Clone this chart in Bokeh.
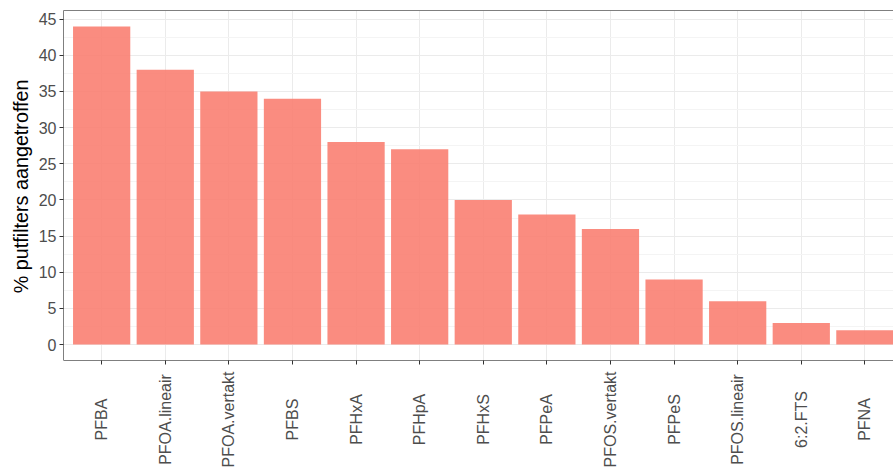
import math
from bokeh.plotting import figure
from bokeh.models import (ColumnDataSource, Range1d, FixedTicker, LinearAxis,
                          Grid, BoxAnnotation, Title)
from bokeh.core.properties import value
from bokeh.embed import file_html
from bokeh.resources import INLINE

categories = ["PFBA", "PFOA.lineair", "PFOA.vertakt", "PFBS", "PFHxA", "PFHpA",
              "PFHxS", "PFPeA", "PFOS.vertakt", "PFPeS", "PFOS.lineair",
              "6:2.FTS", "PFNA"]
values = [44, 38, 35, 34, 28, 27, 20, 18, 16, 9, 6, 3, 2]
y_ticks = [0, 5, 10, 15, 20, 25, 30, 35, 40, 45]
y_minor = [2.5, 7.5, 12.5, 17.5, 22.5, 27.5, 32.5, 37.5, 42.5]
y_title = "% putfilters aangetroffen"

xs = list(range(1, len(categories) + 1))

# layout (pixels)
FIG_W, FIG_H = 893, 468
TOP_PX = 10          # frame top
PANEL_PX = 350       # height of the data panel (top .. x axis line)
LABEL_CENTER_PX = 419

Y0, Y1 = -2.2, 46.2                 # panel limits
k = PANEL_PX / (Y1 - Y0)            # px per unit
Y_START = Y1 - (FIG_H - TOP_PX) / k # frame extends to bottom of figure
lab_y = Y1 - (LABEL_CENTER_PX - TOP_PX) / k

src = ColumnDataSource(dict(x=xs, top=values, cat=categories,
                            ly=[lab_y] * len(xs)))

FONT = "Liberation Sans"
BORDER = "#7F7F7F"
TICK = "#333333"

p = figure(width=FIG_W, height=FIG_H, output_backend="svg", toolbar_location=None,
           x_range=Range1d(0.4, 13.45), y_range=Range1d(Y_START, Y1),
           min_border_left=63, min_border_right=0, min_border_top=TOP_PX,
           min_border_bottom=0, x_axis_type=None, y_axis_type=None)
p.outline_line_color = None
p.background_fill_color = "white"
p.border_fill_color = "white"

# grids
xgrid = Grid(dimension=0, ticker=FixedTicker(ticks=xs),
             grid_line_color="#EBEBEB", grid_line_width=1)
ygrid = Grid(dimension=1, ticker=FixedTicker(ticks=y_ticks, minor_ticks=y_minor),
             grid_line_color="#EBEBEB", grid_line_width=1,
             minor_grid_line_color="#F4F4F4", minor_grid_line_width=1)
p.add_layout(xgrid)
p.add_layout(ygrid)
# blank area below the panel (where the category labels sit)
p.add_layout(BoxAnnotation(top=Y0, fill_color="white", fill_alpha=1.0,
                           line_color=None, level="underlay"))

# y axis
yax = LinearAxis(ticker=FixedTicker(ticks=y_ticks, minor_ticks=y_minor),
                 bounds=(Y0, Y1))
yax.major_label_text_font = FONT
yax.major_label_text_font_size = "16px"
yax.major_label_text_color = "#4D4D4D"
yax.major_label_standoff = 3
yax.axis_line_color = BORDER
yax.major_tick_line_color = TICK
yax.major_tick_in = 0
yax.major_tick_out = 4
yax.minor_tick_line_color = None
p.add_layout(yax, "left")

# y-axis title, centred on the panel (not on the extended frame)
p.add_layout(Title(text=y_title, align="right", offset=69,
                   text_font=FONT, text_font_size="19.75px",
                   text_font_style="normal", text_color="black",
                   standoff=8), "left")

# x axis line + ticks at the bottom of the panel
xax = LinearAxis(ticker=FixedTicker(ticks=xs), fixed_location=Y0)
xax.major_label_overrides = {x: "" for x in xs}
xax.major_label_text_font_size = "0px"
xax.axis_line_color = BORDER
xax.major_tick_line_color = TICK
xax.major_tick_in = 0
xax.major_tick_out = 4
xax.minor_tick_line_color = None
p.add_layout(xax, "below")

# top border
tax = LinearAxis(ticker=FixedTicker(ticks=[]))
tax.major_label_text_font_size = "0px"
tax.major_tick_line_color = None
tax.minor_tick_line_color = None
tax.axis_line_color = BORDER
p.add_layout(tax, "above")

p.vbar(x="x", top="top", width=0.9, source=src, fill_color="#FA8072",
       fill_alpha=0.9, line_color=None)

# category labels, rotated and centred like ggplot's hjust = 0.5
p.text(x="x", y="ly", text="cat", source=src, angle=math.pi / 2,
       text_align="center", text_baseline="middle",
       text_font=value(FONT), text_font_size=value("16px"),
       text_color="#4D4D4D")

open("out.html", "w").write(file_html(p, INLINE))
